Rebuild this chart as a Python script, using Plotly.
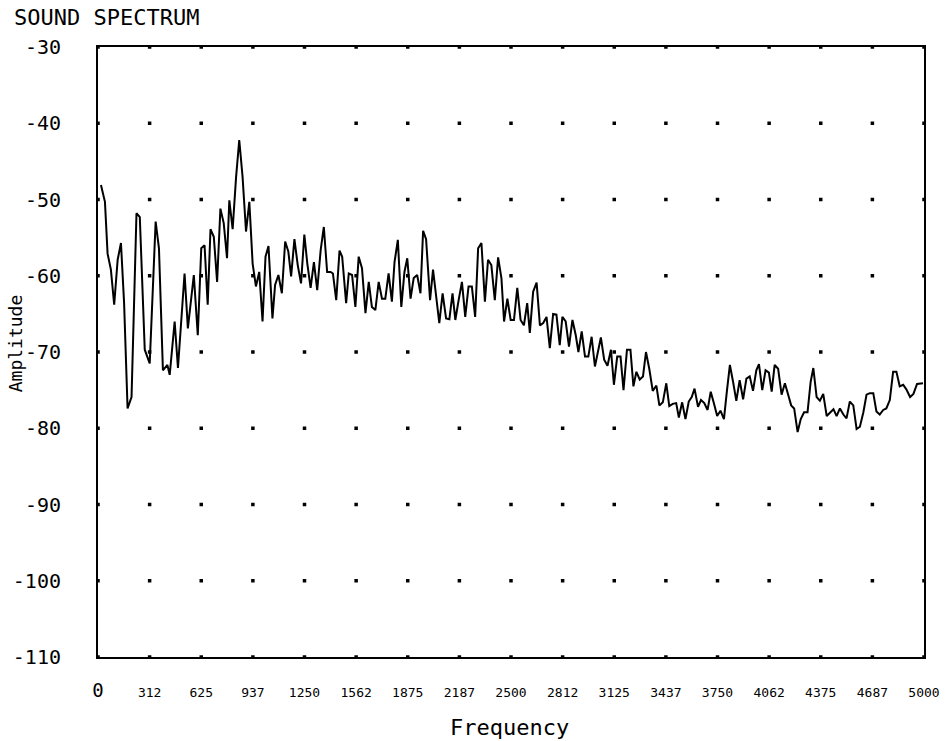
import plotly.graph_objects as go

# Spectrum trace: frequency (Hz) and level (dB)
freq_hz = [18, 42, 58, 78, 98, 119, 139, 158, 179, 203, 233, 253, 283, 313, 349, 369, 393, 420, 434, 464,
           484, 524, 544, 580, 604, 625, 645, 664, 681, 701, 721, 741, 761, 781, 795, 815, 836, 855, 875, 896,
           916, 936, 956, 976, 996, 1014, 1032, 1056, 1072, 1092, 1113, 1133, 1152, 1169, 1189, 1209, 1229, 1249,
           1267, 1287, 1307, 1327, 1348, 1367, 1387, 1408, 1422, 1442, 1462, 1478, 1502, 1518, 1538, 1558, 1578,
           1598, 1619, 1639, 1658, 1679, 1699, 1719, 1739, 1759, 1779, 1795, 1815, 1836, 1855, 1872, 1892, 1911,
           1932, 1952, 1968, 1986, 2010, 2028, 2066, 2086, 2107, 2127, 2146, 2163, 2183, 2203, 2223, 2243, 2263,
           2283, 2301, 2321, 2342, 2361, 2381, 2402, 2422, 2442, 2458, 2478, 2498, 2518, 2538, 2558, 2578, 2598,
           2614, 2634, 2655, 2675, 2695, 2715, 2735, 2755, 2775, 2795, 2811, 2831, 2851, 2872, 2892, 2908, 2928,
           2948, 2968, 2988, 3008, 3028, 3044, 3064, 3084, 3105, 3123, 3143, 3163, 3181, 3202, 3223, 3241, 3259,
           3279, 3299, 3317, 3337, 3358, 3380, 3398, 3419, 3440, 3458, 3479, 3500, 3516, 3536, 3556, 3576, 3594,
           3611, 3632, 3650, 3670, 3690, 3709, 3729, 3748, 3768, 3789, 3807, 3825, 3845, 3864, 3884, 3905, 3925,
           3945, 3965, 3985, 4001, 4021, 4041, 4061, 4078, 4096, 4117, 4138, 4158, 4176, 4196, 4214, 4235, 4254,
           4274, 4295, 4314, 4330, 4350, 4370, 4390, 4411, 4431, 4452, 4471, 4491, 4512, 4531, 4551, 4572, 4592,
           4612, 4633, 4652, 4672, 4693, 4712, 4732, 4753, 4772, 4793, 4813, 4833, 4853, 4874, 4893, 4916, 4936,
           4958, 4978, 4994]

amplitude_db = [-48.1, -50.3, -57.1, -59.2, -63.8, -57.9, -55.7, -63.6, -77.4, -75.9, -51.8, -52.3, -69.7, -71.5,
                -52.9, -56.4, -72.4, -71.7, -73.0, -66.0, -72.1, -59.7, -66.9, -59.9, -67.8, -56.4, -56.0, -63.8,
                -53.9, -54.9, -60.8, -51.2, -53.1, -57.7, -50.1, -53.9, -47.0, -42.2, -47.0, -54.2, -50.3, -58.4,
                -61.4, -59.5, -66.0,
                -57.5, -56.1, -65.6, -61.2, -59.9, -62.3, -55.5, -56.8, -60.1, -55.2, -58.6, -61.0, -54.6, -58.4,
                -61.6, -58.2, -61.9, -56.6, -53.6, -59.5, -59.5, -59.7, -63.2, -56.7, -57.5, -63.6, -59.7, -59.9,
                -64.1, -57.5, -59.0, -64.9, -60.8, -64.1, -64.5, -60.8, -63.0, -63.0, -59.7, -63.4, -58.2, -55.3,
                -64.1, -59.5, -57.7, -63.0, -60.3, -59.9, -62.3, -54.1, -55.2, -63.2, -59.2,
                -66.2, -62.3, -65.6, -65.7, -62.3, -65.8, -63.2, -60.8, -65.4, -61.4, -61.4, -65.4, -56.4, -55.7,
                -63.4, -57.9, -58.6, -63.2, -57.6, -60.3, -66.0, -63.0, -65.8, -65.8, -61.6, -65.8, -66.5, -63.6,
                -67.5, -62.1, -60.9, -66.5, -66.2, -65.4, -69.5, -65.0, -65.1, -69.1, -65.4, -66.0, -69.3, -65.8,
                -67.8, -70.0, -67.3, -70.6, -70.6, -68.0, -71.9, -69.5, -68.1, -71.0, -71.8, -69.7, -74.3, -70.6,
                -70.6, -75.0, -69.7, -69.7, -74.5, -72.6, -73.6, -73.2, -70.0, -72.2, -75.1, -74.4, -77.0, -76.6,
                -74.1, -77.1, -76.8, -76.7, -78.6, -76.6, -78.8, -76.5, -75.9, -74.8, -77.2, -76.3, -76.7, -77.6,
                -75.2, -76.8, -78.4, -77.7, -78.8, -75.1, -71.7, -74.0, -76.4, -73.7, -76.2, -73.5, -73.2, -75.1,
                -72.4, -71.6, -75.0, -72.4, -72.7, -75.2, -71.7, -72.2, -75.6, -74.1, -75.6, -77.0, -77.4, -80.5,
                -78.8, -77.9, -77.9, -73.9, -72.1, -75.9, -76.4, -75.5, -78.4, -78.0, -77.5, -78.4, -77.4, -78.2,
                -78.7, -76.5, -77.0, -80.1, -79.8, -77.9, -75.6, -75.4, -75.4, -77.8, -78.2, -77.6, -77.4, -76.3,
                -72.6, -72.6, -74.5, -74.3, -74.9, -75.9, -75.5, -74.2, -74.1, -74.1]

assert len(freq_hz) == len(amplitude_db)

# Axis ticks
x_tick_vals = [0, 312.5, 625, 937.5, 1250, 1562.5, 1875, 2187.5, 2500, 2812.5, 3125, 3437.5, 3750,
               4062.5, 4375, 4687.5, 5000]
x_tick_text = ['<span style="font-size:19px">0</span>', "312", "625", "937", "1250", "1562", "1875",
               "2187", "2500", "2812", "3125", "3437", "3750", "4062", "4375", "4687", "5000"]
y_tick_vals = [-30, -40, -50, -60, -70, -80, -90, -100, -110]
y_tick_text = ["-30", "-40", "-50", "-60", "-70", "-80", "-90", "-100", "-110"]

FONT = "DejaVu Sans Mono"

fig = go.Figure()

# Dotted grid: one dot at every tick intersection
dot_x = [x for x in x_tick_vals for _ in y_tick_vals]
dot_y = [y for _ in x_tick_vals for y in y_tick_vals]
fig.add_trace(go.Scatter(
    x=dot_x, y=dot_y, mode="markers",
    marker=dict(symbol="square", size=3.5, color="black"),
    hoverinfo="skip", showlegend=False, cliponaxis=False,
))

fig.add_trace(go.Scatter(
    x=freq_hz, y=amplitude_db, mode="lines",
    line=dict(color="black", width=2),
    showlegend=False,
))

fig.update_layout(
    width=952, height=741,
    margin=dict(l=98, r=24, t=47, b=84),
    paper_bgcolor="white", plot_bgcolor="white",
    font=dict(family=FONT, color="black"),
    xaxis=dict(
        range=[0, 5000], showgrid=False, zeroline=False,
        showline=True, mirror=True, linecolor="black", linewidth=2,
        tickmode="array", tickvals=x_tick_vals, ticktext=x_tick_text,
        ticks="", tickfont=dict(size=13, family=FONT), ticklabelstandoff=22,
    ),
    yaxis=dict(
        range=[-110, -30], showgrid=False, zeroline=False,
        showline=True, mirror=True, linecolor="black", linewidth=2,
        tickmode="array", tickvals=y_tick_vals, ticktext=y_tick_text,
        ticks="", tickfont=dict(size=20, family=FONT), ticklabelstandoff=31,
    ),
    annotations=[
        dict(text="SOUND SPECTRUM", xref="paper", yref="paper", x=-0.104, y=1.048,
             xanchor="left", yanchor="middle", showarrow=False,
             font=dict(size=22, family=FONT)),
        dict(text="Frequency", xref="paper", yref="paper", x=0.4976, y=-0.115,
             xanchor="center", yanchor="middle", showarrow=False,
             font=dict(size=22, family=FONT)),
        dict(text="Amplitude", xref="paper", yref="paper", x=-0.1, y=0.515,
             xanchor="center", yanchor="middle", showarrow=False, textangle=-90,
             font=dict(size=18, family=FONT)),
    ],
)

fig.write_html("out.html")
